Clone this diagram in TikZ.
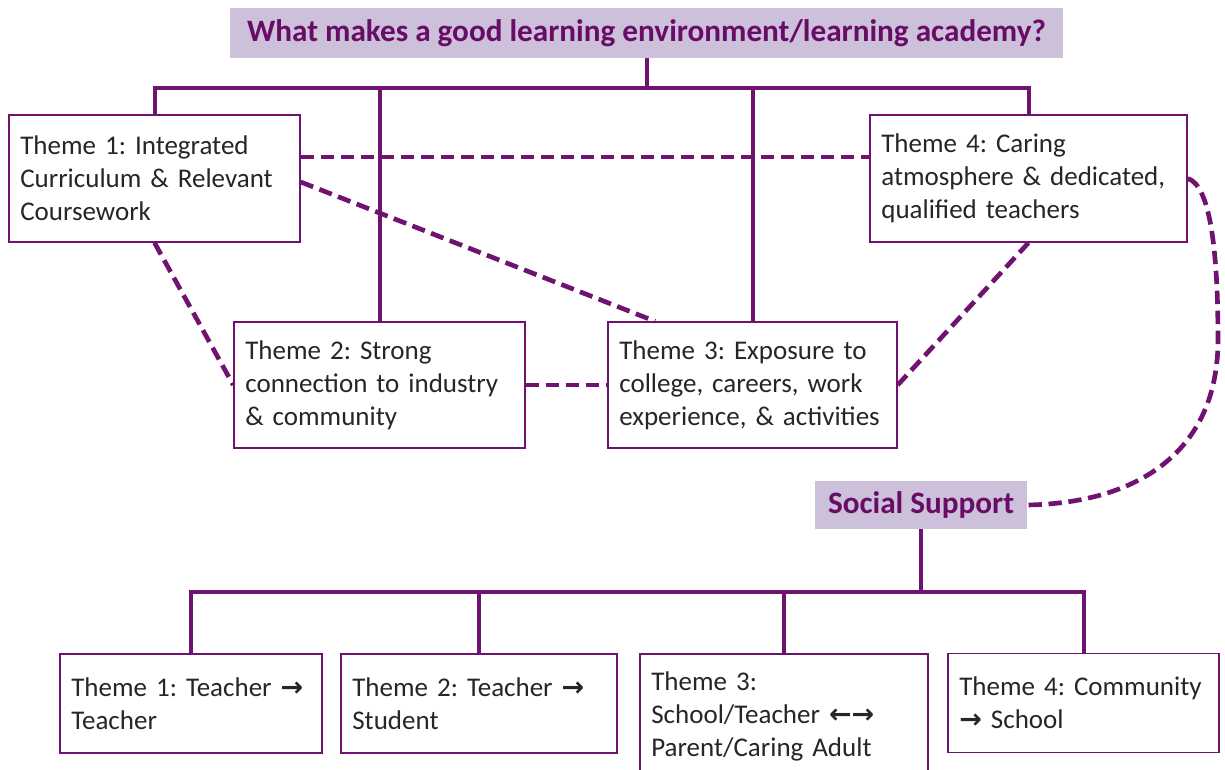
\documentclass[tikz,border=0pt]{standalone}
\usepackage{fontspec}
\setmainfont{Carlito}
\newfontfamily\arrowfont{DejaVu Sans}
\usetikzlibrary{calc}
\definecolor{plum}{RGB}{112,18,112}
\definecolor{lav}{RGB}{204,192,218}
\definecolor{ttl}{RGB}{104,12,102}
\definecolor{txt}{RGB}{38,38,38}
\newcommand\myra{{\arrowfont\bfseries →}}
\newcommand\myla{{\arrowfont\bfseries ←}}
\frenchspacing
\begin{document}
\begin{tikzpicture}[x=0.75pt,y=-0.75pt,
  theme/.style={draw=plum, line width=1.1pt, fill=white, text=txt, align=left,
    inner xsep=8.5pt, inner ysep=0pt, font=\fontsize{20.25pt}{24.75pt}\selectfont},
  head/.style={fill=lav, text=ttl, inner sep=0pt,
    font=\bfseries\fontsize{23.4pt}{27pt}\selectfont},
  conn/.style={draw=plum, line width=3pt},
  link/.style={draw=plum, line width=3.5pt, dash pattern=on 10pt off 5pt}]
\useasboundingbox (0,0) rectangle (1225,770);
\fill[white] (0,0) rectangle (1225,770);

% heads
\node[head, minimum width=624.75pt, minimum height=37.5pt] (title) at (646.5,33)
  {What makes a good learning environment/learning academy?};
\node[head, minimum width=159pt, minimum height=36pt] (ss) at (921,505) {Social Support};

% upper themes
\node[theme, minimum width=218.25pt, minimum height=95.25pt, text width=201.25pt] (t1) at (154.5,178.5)
  {Theme 1: Integrated\\Curriculum \& Relevant\\Coursework};
\node[theme, minimum width=237.75pt, minimum height=95.25pt, text width=220.75pt] (t4) at (1028.5,178.5)
  {Theme 4: Caring\\atmosphere \& dedicated,\\qualified teachers};
\node[theme, minimum width=218.25pt, minimum height=94.5pt, text width=201.25pt] (t2) at (379.5,385)
  {Theme 2: Strong\\connection to industry\\\& community};
\node[theme, minimum width=216.75pt, minimum height=94.5pt, text width=199.75pt] (t3) at (752.5,385)
  {Theme 3: Exposure to\\college, careers, work\\experience, \& activities};

% lower themes
\node[theme, minimum width=196.5pt, minimum height=74.25pt, text width=179.5pt] (b1) at (191,703.5)
  {Theme 1: Teacher \myra\\Teacher};
\node[theme, minimum width=207pt, minimum height=74.25pt, text width=190pt] (b2) at (479,703.5)
  {Theme 2: Teacher \myra\\Student};
\node[theme, minimum width=216pt, minimum height=93pt, text width=199pt] (b3) at (784,716)
  {Theme 3:\\School/Teacher \myla\myra\\Parent/Caring Adult};
\node[theme, minimum width=203.25pt, minimum height=74.25pt, text width=186.25pt] (b4) at (1083.5,703)
  {Theme 4: Community\\\myra{} School};

% upper tree
\coordinate (ht) at (0,88);
\draw[conn] (title.south) -- (title.south |- ht);
\draw[conn] (t1.north) -- (t1.north |- ht) -- (t4.north |- ht) -- (t4.north);
\draw[conn] (t2.north) -- (t2.north |- ht);
\draw[conn] (t3.north) -- (t3.north |- ht);

% lower tree
\coordinate (hb) at (0,592);
\draw[conn] (ss.south) -- (ss.south |- hb);
\draw[conn] (b1.north) -- (b1.north |- hb) -- (b4.north |- hb) -- (b4.north);
\draw[conn] (b2.north) -- (b2.north |- hb);
\draw[conn] (b3.north) -- (b3.north |- hb);

% dashed links
\draw[link] ($(t1.east)+(0,-21.5)$) -- ($(t4.west)+(0,-21.5)$);
\draw[link] ($(t1.east)+(0,3.5)$) -- ($(t3.north)+(-97.5,0)$);
\draw[link] (t1.south) -- (t2.west);
\draw[link] (t2.east) -- (t3.west);
\draw[link] (t4.south) -- (t3.east);
\draw[link] (t4.east) .. controls (1210,185) and (1218,250) .. (1218,340)
  .. controls (1218,450) and (1140,503) .. (ss.east);
\end{tikzpicture}
\end{document}
